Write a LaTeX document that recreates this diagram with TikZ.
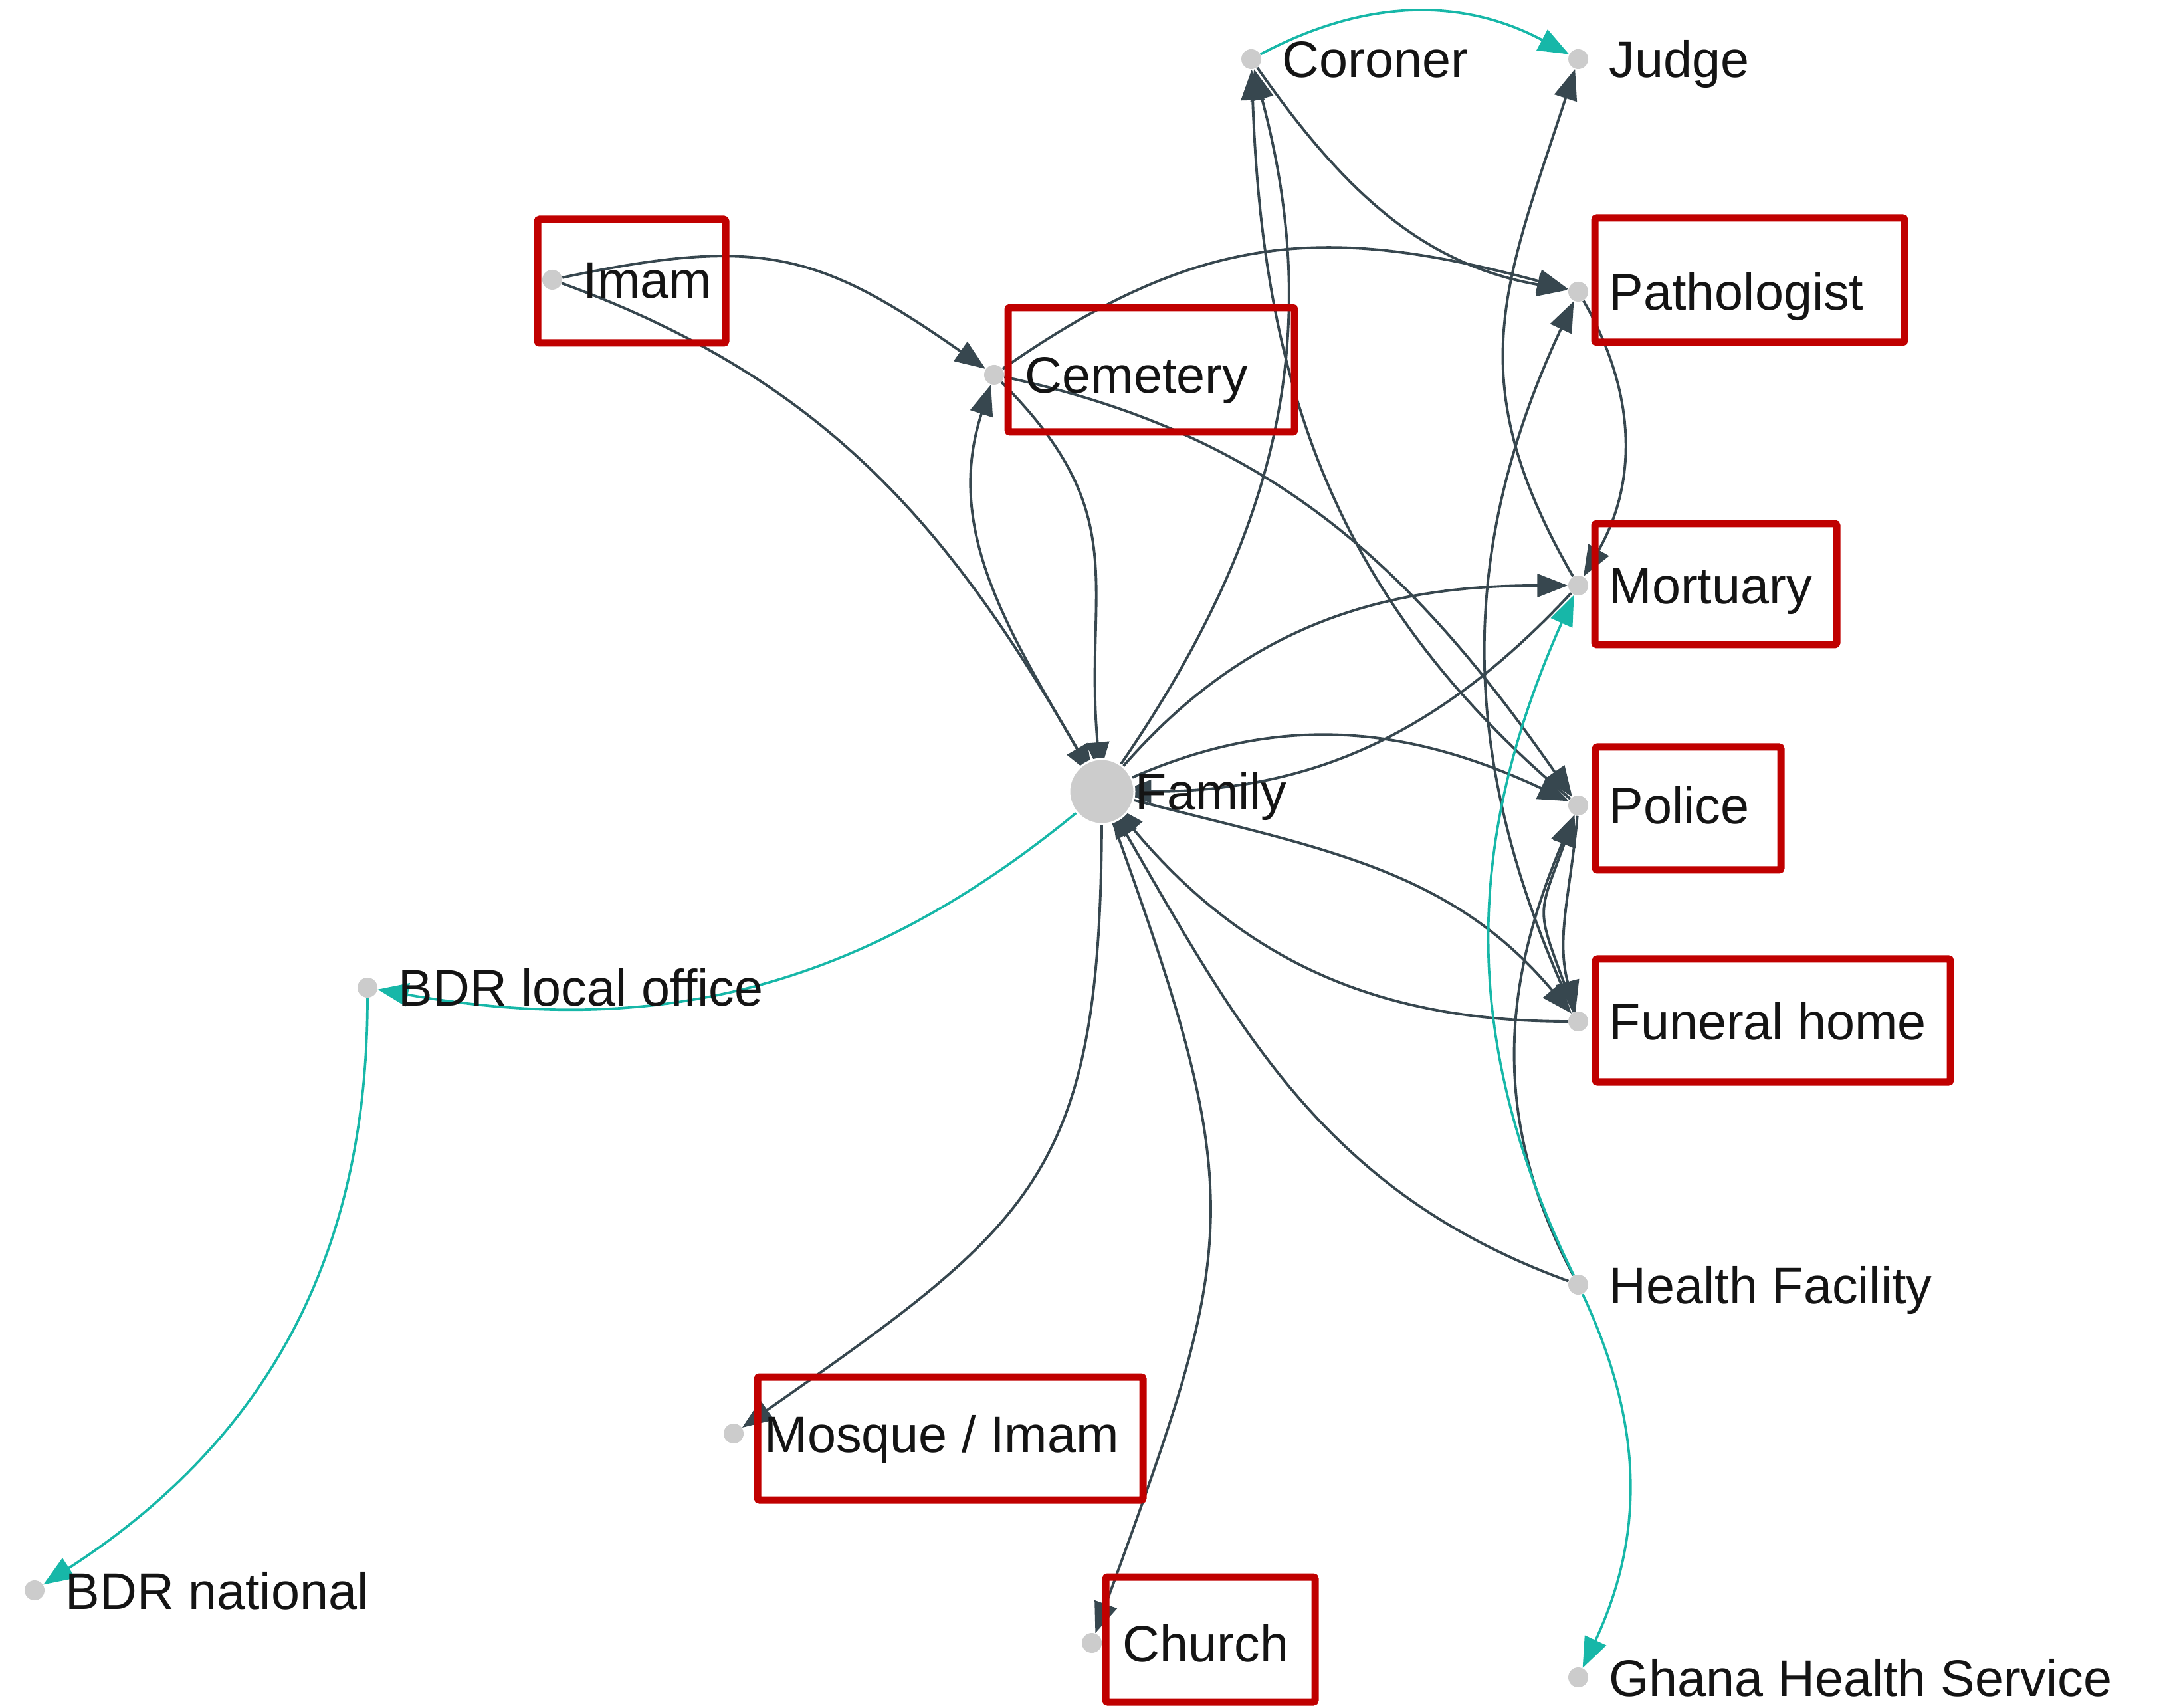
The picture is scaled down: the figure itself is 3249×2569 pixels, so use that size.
\documentclass[tikz,border=0pt]{standalone}
\usepackage{fontspec}
\setmainfont{Liberation Sans}
\usetikzlibrary{arrows.meta}
\pgfdeclarelayer{bg}
\pgfsetlayers{bg,main}
\definecolor{edgedark}{HTML}{37474F}
\definecolor{edgeteal}{RGB}{23,183,168}
\definecolor{boxred}{HTML}{C00000}
\definecolor{dotgray}{HTML}{CCCCCC}
\begin{document}
\begin{tikzpicture}[x=0.01cm,y=0.01cm,
  dot/.style={circle,fill=dotgray,inner sep=0pt,minimum size=0.3cm},
  lbl/.style={anchor=base west,inner sep=0pt,font=\fontsize{22}{26}\selectfont,text=black!92},
  de/.style={draw=edgedark,line width=1.1pt,-{Triangle[length=0.46cm,width=0.35cm]}},
  te/.style={draw=edgeteal,line width=1.05pt,-{Triangle[length=0.46cm,width=0.35cm]}},
  redbox/.style={draw=boxred,line width=0.11cm,rounded corners=0.03cm}]
\useasboundingbox (0,0) rectangle (3249,2569);

% nodes
\node[dot] (cor) at (1883,2480) {};
\node[dot] (jud) at (2375,2480) {};
\node[dot] (imam) at (831,2148) {};
\node[dot] (cem) at (1496,2005) {};
\node[dot] (pat) at (2375,2130) {};
\node[dot] (mor) at (2375,1688) {};
\node[circle,fill=dotgray,draw=white,line width=0.03cm,minimum size=0.98cm,inner sep=0pt] (fam) at (1658,1378) {};
\node[circle,inner sep=0pt,minimum size=0.55cm] (famc) at (fam.center) {};
\node[dot] (pol) at (2375,1357) {};
\node[dot] (fun) at (2375,1032) {};
\node[dot] (bdrl) at (553,1083) {};
\node[dot] (hf) at (2375,636) {};
\node[dot] (mos) at (1104,412) {};
\node[dot] (bdrn) at (52,176) {};
\node[dot] (chu) at (1643,97) {};
\node[dot] (ghs) at (2375,45) {};

% labels
\node[lbl] (corL) at (1929,2452) {Coroner};
\node[lbl] (judL) at (2421,2452) {Judge};
\node[lbl] (imamL) at (877,2120) {Imam};
\node[lbl] (cemL) at (1542,1977) {Cemetery};
\node[lbl] (patL) at (2421,2102) {Pathologist};
\node[lbl] (morL) at (2421,1660) {Mortuary};
\node[lbl] (famL) at (1708,1350) {Family};
\node[lbl] (polL) at (2421,1329) {Police};
\node[lbl] (funL) at (2421,1004) {Funeral home};
\node[lbl] (bdrlL) at (599,1055) {BDR local office};
\node[lbl] (hfL) at (2421,608) {Health Facility};
\node[lbl] (mosL) at (1150,384) {Mosque / Imam};
\node[lbl] (bdrnL) at (98,148) {BDR national};
\node[lbl] (chuL) at (1689,69) {Church};
\node[lbl] (ghsL) at (2421,17) {Ghana Health Service};

% highlight boxes
\draw[redbox] (809,2239) rectangle (1092,2053);
\draw[redbox] (1517,2106) rectangle (1948,1919);
\draw[redbox] (2400,2241) rectangle (2866,2054);
\draw[redbox] (2400,1781) rectangle (2764,1599);
\draw[redbox] (2401,1445) rectangle (2680,1260);
\draw[redbox] (2401,1126) rectangle (2935,941);
\draw[redbox] (1140,497) rectangle (1720,312);
\draw[redbox] (1664,196) rectangle (1979,8);

% connectors
\begin{pgfonlayer}{bg}
\draw[de] (imam) to[out=12,in=145,looseness=1.2] (cem);
\draw[de] (imam) to[out=-20,in=120] (famc);
\draw[de] (famc) to[out=120,in=-108] (cem);
\draw[de] (cem) to[out=-45,in=95,looseness=1.2] (famc);
\draw[de] (cem) to[out=35,in=165,looseness=1.1] (pat);
\draw[de] (cem) to[out=-12,in=125] (pol);
\draw[de] (cor) to[out=-55,in=170] (pat);
\draw[de] (famc) to[out=55,in=-75] (cor);
\draw[de] (pol) to[out=140,in=-88] (cor);
\draw[de] (mor) to[out=120,in=-108,looseness=1.15] (jud);
\draw[de] (pat) to[out=-60,in=60] (mor);
\draw[de] (fun) to[out=115,in=-115] (pat);
\draw[de] (famc) to[out=50,in=180] (mor);
\draw[de] (mor) to[out=227,in=0] (famc);
\draw[de] (famc) to[out=25,in=155] (pol);
\draw[de] (famc) to[out=-15,in=130] (fun);
\draw[de] (fun) to[out=180,in=-50] (famc);
\draw[de] (hf) to[out=160,in=-60] (famc);
\draw[de] (famc) to[out=-90,in=35,looseness=1.3] (mos);
\draw[de] (famc) to[out=-70,in=70,looseness=1.3] (chu);
\draw[de] (hf) to[out=118,in=-113] (pol);
\draw[de] (fun) to[out=110,in=-110,looseness=1.5] (pol);
\draw[de] (pol) to[out=-95,in=105] (fun);
\draw[te] (cor) to[out=28,in=152] (jud);
\draw[te] (famc) to[out=220,in=-10] (bdrl);
\draw[te] (bdrl) to[out=-90,in=33] (bdrn);
\draw[te] (hf) to[out=116,in=-114] (mor);
\draw[te] (hf) to[out=-65,in=65] (ghs);
\end{pgfonlayer}
\end{tikzpicture}
\end{document}
